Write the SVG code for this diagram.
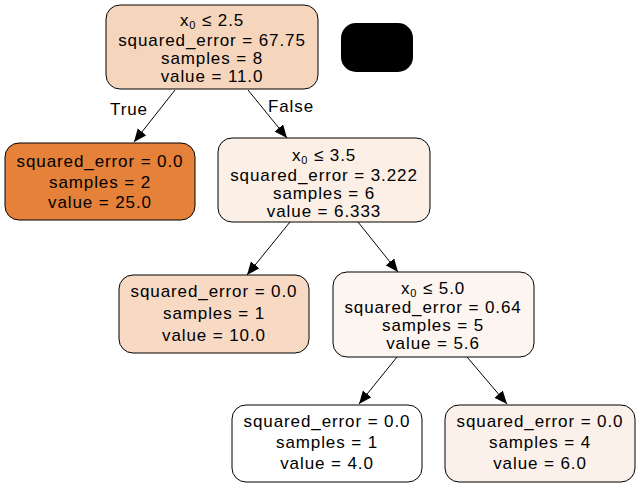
<svg xmlns="http://www.w3.org/2000/svg" width="640" height="487" viewBox="0 0 640 487">
  <style>
    .box { stroke: #000; stroke-width: 1; }
    .lbl { font-family: "Liberation Sans", Arial, sans-serif; font-size: 17px; letter-spacing: 0.9px; fill: #000; text-anchor: middle; }
    .sub { font-size: 11px; }
    .edge { stroke: #000; stroke-width: 1; fill: none; marker-end: url(#arrow); }
  </style>
  <defs>
    <marker id="arrow" markerUnits="userSpaceOnUse" markerWidth="14" markerHeight="12" refX="13" refY="5.5" orient="auto">
      <path d="M0,0 L13,5.5 L0,11 Z" fill="#000"/>
    </marker>
  </defs>
  <rect width="640" height="487" fill="#fff"/>

  <g id="connectors">
    <line class="edge" x1="175" y1="90" x2="134" y2="142"/>
    <line class="edge" x1="248" y1="90" x2="287" y2="138"/>
    <line class="edge" x1="290" y1="222" x2="247" y2="275"/>
    <line class="edge" x1="358" y1="222" x2="398" y2="272"/>
    <line class="edge" x1="397" y1="357" x2="359" y2="404"/>
    <line class="edge" x1="467" y1="357" x2="507" y2="404"/>
    <text class="lbl" x="129" y="115">True</text>
    <text class="lbl" x="291" y="112">False</text>
  </g>

  <g id="node0">
    <rect class="box" x="106" y="5" width="212" height="84" rx="14" fill="#f6d5bd"/>
    <text class="lbl" x="212" y="26">x<tspan class="sub" dy="3">0</tspan><tspan dy="-3"> ≤ 2.5</tspan></text>
    <text class="lbl" x="212" y="46">squared_error = 67.75</text>
    <text class="lbl" x="212" y="64">samples = 8</text>
    <text class="lbl" x="212" y="82">value = 11.0</text>
  </g>

  <g id="legend">
    <rect x="341" y="23" width="72" height="49" rx="15" fill="#000"/>
  </g>

  <g id="node1">
    <rect class="box" x="5" y="143" width="190" height="77" rx="14" fill="#e58139"/>
    <text class="lbl" x="100" y="167">squared_error = 0.0</text>
    <text class="lbl" x="100" y="188">samples = 2</text>
    <text class="lbl" x="100" y="208">value = 25.0</text>
  </g>

  <g id="node2">
    <rect class="box" x="218" y="138" width="212" height="84" rx="14" fill="#fbefe6"/>
    <text class="lbl" x="324" y="161">x<tspan class="sub" dy="3">0</tspan><tspan dy="-3"> ≤ 3.5</tspan></text>
    <text class="lbl" x="324" y="181">squared_error = 3.222</text>
    <text class="lbl" x="324" y="199">samples = 6</text>
    <text class="lbl" x="324" y="217">value = 6.333</text>
  </g>

  <g id="node3">
    <rect class="box" x="119" y="275" width="190" height="78" rx="14" fill="#f7d9c4"/>
    <text class="lbl" x="214" y="297">squared_error = 0.0</text>
    <text class="lbl" x="214" y="319">samples = 1</text>
    <text class="lbl" x="214" y="341">value = 10.0</text>
  </g>

  <g id="node4">
    <rect class="box" x="333" y="272" width="201" height="85" rx="14" fill="#fdf5f0"/>
    <text class="lbl" x="433" y="294">x<tspan class="sub" dy="3">0</tspan><tspan dy="-3"> ≤ 5.0</tspan></text>
    <text class="lbl" x="433" y="313">squared_error = 0.64</text>
    <text class="lbl" x="433" y="331">samples = 5</text>
    <text class="lbl" x="433" y="349">value = 5.6</text>
  </g>

  <g id="node5">
    <rect class="box" x="232" y="405" width="190" height="77" rx="14" fill="#ffffff"/>
    <text class="lbl" x="327" y="427">squared_error = 0.0</text>
    <text class="lbl" x="327" y="448">samples = 1</text>
    <text class="lbl" x="327" y="469">value = 4.0</text>
  </g>

  <g id="node6">
    <rect class="box" x="445" y="405" width="190" height="77" rx="14" fill="#fcf0ea"/>
    <text class="lbl" x="540" y="427">squared_error = 0.0</text>
    <text class="lbl" x="540" y="448">samples = 4</text>
    <text class="lbl" x="540" y="469">value = 6.0</text>
  </g>
</svg>
